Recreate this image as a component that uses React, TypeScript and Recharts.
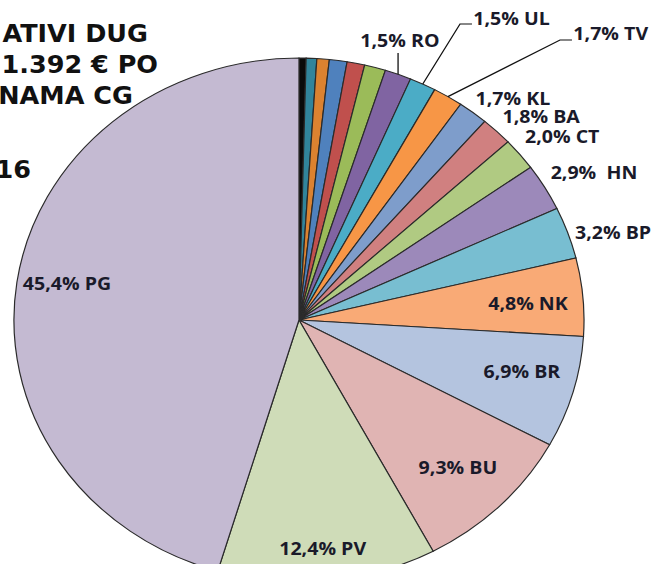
import React from 'react';
import { PieChart, Pie, Cell } from 'recharts';

// clockwise from 12 o'clock; the first six slivers carry no label
const codes = ['', '', '', '', '', '', 'RO', 'UL', 'TV', 'KL', 'BA', 'CT', 'HN', 'BP', 'NK', 'BR', 'BU', 'PV', 'PG'];
const shares = [0.4, 0.6, 0.7, 1.0, 1.0, 1.2, 1.5, 1.5, 1.7, 1.7, 1.8, 2.0, 2.9, 3.2, 4.8, 6.9, 9.3, 12.4, 45.4];
const colors = [
  '#0a0a0a', '#31849B', '#DB8230', '#4F81BD', '#C0504D', '#9BBB59', '#8064A2', '#4BACC6',
  '#F79646', '#7E9DCB', '#D08080', '#B0CA82', '#9C89BA', '#78BED1', '#F9AA76', '#B4C4DF',
  '#E0B4B3', '#CFDCB8', '#C4BAD2',
];
const titleLines = ['ATIVI DUG', '1.392 € PO', 'NAMA CG', '16'];

const data = shares.map((v, i) => ({ name: codes[i] || `s${i}`, code: codes[i], value: v }));

// the original picture is stretched sideways, so draw narrow and widen
const SCALE_X = 1.088;
const W = 601;
const H = 564;
const RAD = Math.PI / 180;

// label placement: radius factor and angle shift from the slice middle
const radial: Record<string, { r: number; da: number }> = {
  PG: { r: 0.826, da: -1.5 },
  PV: { r: 0.874, da: -0.3 },
  BU: { r: 0.791, da: 0 },
  BR: { r: 0.806, da: 2 },
  NK: { r: 0.806, da: -0.4 },
  BP: { r: 1.152, da: -2.5 },
  HN: { r: 1.179, da: -1.8 },
  CT: { r: 1.16, da: -2 },
  BA: { r: 1.152, da: -3.6 },
  KL: { r: 1.132, da: -3.9 },
};
// labels dragged away with leader lines
const leaders: Record<string, { elbow?: [number, number]; endX?: number; endY?: number; tx: number; ty: number; anchor: 'start' | 'middle' }> = {
  RO: { endY: 53, tx: 367.6, ty: 40, anchor: 'middle' },
  UL: { elbow: [422.8, 24], endX: 433.8, tx: 435, ty: 18, anchor: 'start' },
  TV: { elbow: [514.7, 40], endX: 525.7, tx: 527, ty: 33, anchor: 'start' },
};

const labelStyle = {
  fontFamily: '"Open Sans", sans-serif',
  fontWeight: 700,
  fontSize: 18,
  fill: '#1a1a2a',
  whiteSpace: 'pre' as const,
};

const fmt = (v: number) => v.toFixed(1).replace('.', ',');

const renderLabel = (props: any) => {
  const { cx, cy, midAngle, outerRadius, index } = props;
  const code = codes[index];
  if (!code) return null;
  const text = `${fmt(shares[index])}%${code === 'HN' ? '  ' : ' '}${code}`;
  const pos = radial[code];
  if (pos) {
    const a = (midAngle + pos.da) * RAD;
    const x = cx + outerRadius * pos.r * Math.cos(a);
    const y = cy - outerRadius * pos.r * Math.sin(a);
    return (
      <text x={x} y={y} textAnchor="middle" dominantBaseline="central" style={labelStyle}>
        {text}
      </text>
    );
  }
  const l = leaders[code];
  const ex = cx + outerRadius * Math.cos(midAngle * RAD);
  const ey = cy - outerRadius * Math.sin(midAngle * RAD);
  const pts = [[ex, ey]];
  if (l.elbow) {
    pts.push(l.elbow, [l.endX as number, l.elbow[1]]);
  } else {
    pts.push([ex, l.endY as number]);
  }
  return (
    <g>
      <polyline points={pts.map((p) => p.join(',')).join(' ')} fill="none" stroke="#111" strokeWidth={1.2} />
      <text x={l.tx} y={l.ty} textAnchor={l.anchor} dominantBaseline="central" style={labelStyle}>
        {text}
      </text>
    </g>
  );
};

export default function App() {
  return (
    <div style={{ width: 654, height: 564, overflow: 'hidden', position: 'relative', background: '#fff' }}>
      <style>{'body{margin:0}'}</style>
      <div style={{ width: W, height: H, transform: `scaleX(${SCALE_X})`, transformOrigin: '0 0', position: 'relative' }}>
        <PieChart width={W} height={H} margin={{ top: 0, right: 0, bottom: 0, left: 0 }}>
          <Pie
            data={data}
            dataKey="value"
            nameKey="name"
            cx={274.8}
            cy={320}
            outerRadius={262}
            startAngle={90}
            endAngle={-270}
            stroke="#2a2a2a"
            strokeWidth={1.1}
            label={renderLabel}
            labelLine={false}
            isAnimationActive={false}
          >
            {data.map((d, i) => (
              <Cell key={d.name} fill={colors[i]} />
            ))}
          </Pie>
        </PieChart>
      </div>
      {/* title is cut off at the left edge, as in the source image */}
      <svg width={654} height={H} style={{ position: 'absolute', left: 0, top: 0, pointerEvents: 'none' }}>
        <g style={{ fontFamily: '"DejaVu Sans", Verdana, sans-serif', fontWeight: 700, fontSize: 25.5 }} fill="#111">
          <text x={148} y={42} textAnchor="end">{titleLines[0]}</text>
          <text x={158} y={73} textAnchor="end">{titleLines[1]}</text>
          <text x={133} y={104} textAnchor="end">{titleLines[2]}</text>
          <text x={31} y={178} textAnchor="end">{titleLines[3]}</text>
        </g>
      </svg>
    </div>
  );
}
